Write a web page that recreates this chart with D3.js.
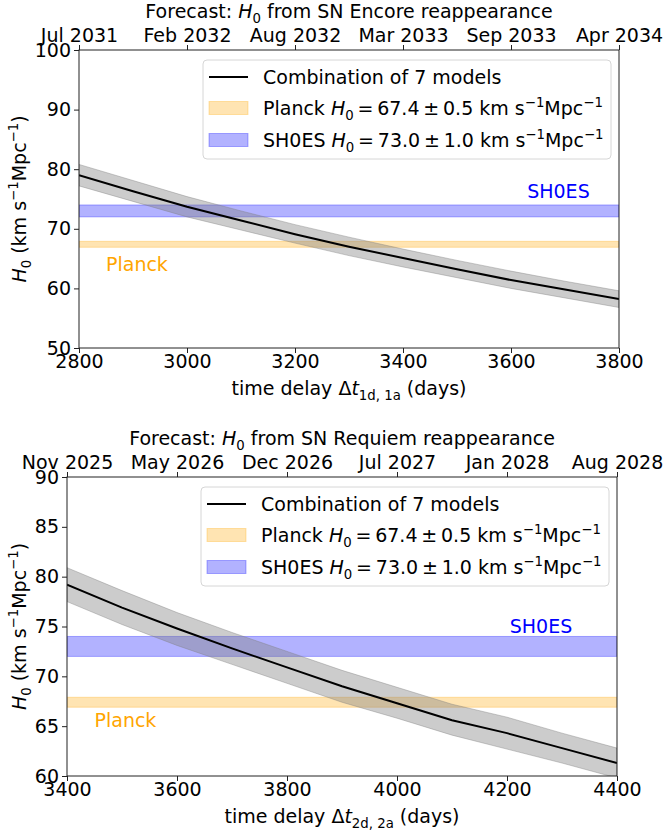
<!DOCTYPE html>
<html>
<head>
<meta charset="utf-8">
<script src="https://cdn.jsdelivr.net/npm/d3@7"></script>
<style>
  body { margin: 0; background: #fff; }
  svg { display: block; font-family: "DejaVu Sans", sans-serif; }
</style>
</head>
<body>
<svg width="666" height="834"></svg>
<script>
// --- data ---
var encoreDays  = [2800, 2900, 3000, 3100, 3200, 3300, 3400, 3500, 3600, 3700, 3800];
var encoreH0    = [79.0, 76.3, 73.7, 71.4, 69.1, 67.0, 65.1, 63.2, 61.4, 59.8, 58.2];
var encoreHi    = [80.8, 78.1, 75.4, 73.0, 70.7, 68.6, 66.6, 64.7, 62.9, 61.2, 59.6];
var encoreLo    = [77.2, 74.6, 72.0, 69.8, 67.6, 65.5, 63.6, 61.8, 60.0, 58.4, 56.8];
var encoreDates = ["Jul 2031", "Feb 2032", "Aug 2032", "Mar 2033", "Sep 2033", "Apr 2034"];

var requiemDays  = [3400, 3500, 3600, 3700, 3800, 3900, 4000, 4100, 4200, 4300, 4400];
var requiemH0    = [79.2, 76.9, 74.8, 72.8, 70.9, 69.0, 67.3, 65.6, 64.3, 62.8, 61.3];
var requiemHi    = [80.9, 78.6, 76.4, 74.4, 72.5, 70.6, 68.9, 67.2, 65.9, 64.3, 62.8];
var requiemLo    = [77.5, 75.2, 73.1, 71.2, 69.3, 67.4, 65.8, 64.1, 62.7, 61.3, 59.8];
var requiemDates = ["Nov 2025", "May 2026", "Dec 2026", "Jul 2027", "Jan 2028", "Aug 2028"];

var planckH0 = 67.4, planckErr = 0.5;
var shoesH0 = 73.0, shoesErr = 1.0;

var svg = d3.select("svg"),
    fs = 19;

// text with italic / sub / superscript pieces
function rich(t, parts) {
  var shift = 0;
  parts.forEach(function(p) {
    var target = p.sub ? fs * 0.26 : p.sup ? -fs * 0.4 : 0;
    var ts = t.append("tspan").attr("dy", target - shift).text(p.t);
    shift = target;
    if (p.sub || p.sup) ts.attr("font-size", fs * 0.7);
    if (p.i) ts.attr("font-style", "italic");
  });
  return t;
}

var unitParts = [{t: " km s"}, {t: "\u22121", sup: true}, {t: "Mpc"}, {t: "\u22121", sup: true}];

function drawPanel(cfg) {
  var x = d3.scaleLinear().domain([cfg.days[0], cfg.days[cfg.days.length - 1]]).range([cfg.left, cfg.right]),
      y = d3.scaleLinear().domain(cfg.ydom).range([cfg.bottom, cfg.top]);

  var g = svg.append("g");
  var clipId = "clip" + cfg.id;
  g.append("clipPath").attr("id", clipId).append("rect")
      .attr("x", cfg.left).attr("y", cfg.top)
      .attr("width", cfg.right - cfg.left).attr("height", cfg.bottom - cfg.top);

  var plot = g.append("g").attr("clip-path", "url(#" + clipId + ")");
  var xd = x.domain();

  // reference bands
  [[planckH0, planckErr, "orange"], [shoesH0, shoesErr, "blue"]].forEach(function(b) {
    plot.append("rect")
        .attr("x", x(xd[0])).attr("width", x(xd[1]) - x(xd[0]))
        .attr("y", y(b[0] + b[1])).attr("height", y(b[0] - b[1]) - y(b[0] + b[1]))
        .attr("fill", b[2]).attr("fill-opacity", 0.3)
        .attr("stroke", b[2]).attr("stroke-opacity", 0.3).attr("stroke-width", 1);
  });

  var pts = cfg.days.map(function(d, i) { return {d: d, m: cfg.h0[i], hi: cfg.hi[i], lo: cfg.lo[i]}; });

  plot.append("path").datum(pts)
      .attr("d", d3.area().x(function(p) { return x(p.d); })
          .y0(function(p) { return y(p.lo); }).y1(function(p) { return y(p.hi); }))
      .attr("fill", "gray").attr("fill-opacity", 0.4)
      .attr("stroke", "gray").attr("stroke-opacity", 0.4).attr("stroke-width", 1);

  plot.append("path").datum(pts)
      .attr("d", d3.line().x(function(p) { return x(p.d); }).y(function(p) { return y(p.m); }))
      .attr("fill", "none").attr("stroke", "black").attr("stroke-width", 2);

  // band labels
  g.append("text").attr("x", x(cfg.shoesAt[0])).attr("y", y(cfg.shoesAt[1]))
      .attr("font-size", fs).attr("fill", "blue").text("SH0ES");
  g.append("text").attr("x", x(cfg.planckAt[0])).attr("y", y(cfg.planckAt[1]))
      .attr("font-size", fs).attr("fill", "orange").text("Planck");

  // frame
  g.append("rect").attr("x", cfg.left).attr("y", cfg.top)
      .attr("width", cfg.right - cfg.left).attr("height", cfg.bottom - cfg.top)
      .attr("fill", "none").attr("stroke", "#222").attr("stroke-width", 1);

  // axes
  var tickVals = d3.range(xd[0], xd[1] + 1, 200);
  var xAxis = g.append("g").attr("transform", "translate(0," + cfg.bottom + ")")
      .call(d3.axisBottom(x).tickValues(tickVals).tickSize(5).tickPadding(2).tickFormat(d3.format("d")));
  var topAxis = g.append("g").attr("transform", "translate(0," + cfg.top + ")")
      .call(d3.axisTop(x).tickValues(tickVals).tickSize(5).tickPadding(3)
          .tickFormat(function(d, i) { return cfg.dates[i]; }));
  var yAxis = g.append("g").attr("transform", "translate(" + cfg.left + ",0)")
      .call(d3.axisLeft(y).tickValues(d3.range(cfg.ydom[0], cfg.ydom[1] + 1, cfg.ystep)).tickSize(5).tickPadding(3));

  [xAxis, topAxis, yAxis].forEach(function(a) {
    a.select(".domain").remove();
    a.selectAll("line").attr("stroke", "#222");
    a.selectAll("text").attr("font-size", fs).attr("font-family", "DejaVu Sans").attr("fill", "#000");
  });

  // titles
  var cx = (cfg.left + cfg.right) / 2;
  rich(g.append("text").attr("x", cx).attr("y", cfg.top - 32).attr("text-anchor", "middle").attr("font-size", fs),
      [{t: "Forecast: "}, {t: "H", i: true}, {t: "0", sub: true}, {t: " from SN " + cfg.name + " reappearance"}]);

  rich(g.append("text").attr("x", cx).attr("y", cfg.bottom + 47).attr("text-anchor", "middle").attr("font-size", fs),
      [{t: "time delay \u0394"}, {t: "t", i: true}, {t: cfg.sub, sub: true}, {t: " (days)"}]);

  var cy = (cfg.top + cfg.bottom) / 2;
  rich(g.append("text").attr("transform", "translate(26," + cy + ") rotate(-90)")
      .attr("text-anchor", "middle").attr("font-size", fs),
      [{t: "H", i: true}, {t: "0", sub: true}, {t: " (km s"}, {t: "\u22121", sup: true}, {t: "Mpc"}, {t: "\u22121", sup: true}, {t: ")"}]);

  // legend
  var lx = cfg.right - 416, ly = cfg.top + 10;
  var lg = g.append("g");
  lg.append("rect").attr("x", lx).attr("y", ly).attr("width", 408).attr("height", 99)
      .attr("rx", 4).attr("fill", "white").attr("fill-opacity", 0.8)
      .attr("stroke", "#d6d6d6").attr("stroke-width", 1);
  var rows = [ly + 17, ly + 48, ly + 80];
  lg.append("line").attr("x1", lx + 6).attr("x2", lx + 45).attr("y1", rows[0]).attr("y2", rows[0])
      .attr("stroke", "black").attr("stroke-width", 2);
  [["orange", rows[1]], ["blue", rows[2]]].forEach(function(p) {
    lg.append("rect").attr("x", lx + 6).attr("y", p[1] - 6.5).attr("width", 39).attr("height", 13)
        .attr("fill", p[0]).attr("fill-opacity", 0.3)
        .attr("stroke", p[0]).attr("stroke-opacity", 0.3);
  });
  lg.append("text").attr("x", lx + 60).attr("y", rows[0] + 7).attr("font-size", fs).text("Combination of 7 models");
  rich(lg.append("text").attr("x", lx + 60).attr("y", rows[1] + 7).attr("font-size", fs),
      [{t: "Planck "}, {t: "H", i: true}, {t: "0", sub: true}, {t: "\u2009=\u200967.4\u2009\u00b1\u20090.5"}].concat(unitParts));
  rich(lg.append("text").attr("x", lx + 60).attr("y", rows[2] + 7).attr("font-size", fs),
      [{t: "SH0ES "}, {t: "H", i: true}, {t: "0", sub: true}, {t: "\u2009=\u200973.0\u2009\u00b1\u20091.0"}].concat(unitParts));
}

drawPanel({
  id: "a", name: "Encore", sub: "1d, 1a",
  days: encoreDays, h0: encoreH0, hi: encoreHi, lo: encoreLo, dates: encoreDates,
  ydom: [50, 100], ystep: 10,
  left: 79, right: 619, top: 50, bottom: 348,
  shoesAt: [3630, 75.2], planckAt: [2850, 63.0]
});

drawPanel({
  id: "b", name: "Requiem", sub: "2d, 2a",
  days: requiemDays, h0: requiemH0, hi: requiemHi, lo: requiemLo, dates: requiemDates,
  ydom: [60, 90], ystep: 5,
  left: 67, right: 617, top: 477, bottom: 776,
  shoesAt: [4205, 74.3], planckAt: [3450, 64.9]
});
</script>
</body>
</html>
